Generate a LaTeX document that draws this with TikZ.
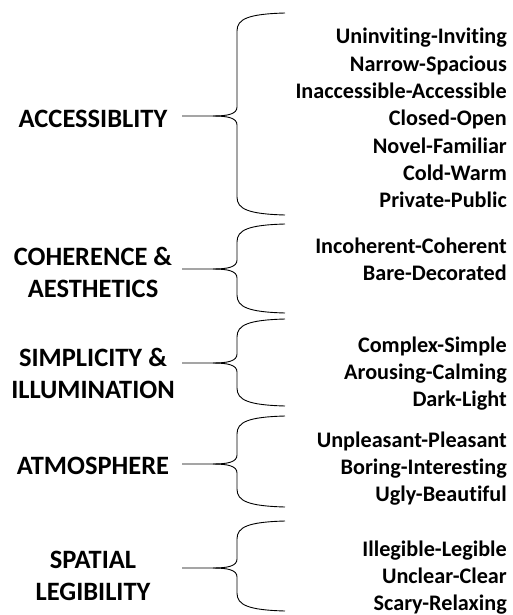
\documentclass[tikz,border=0pt]{standalone}
\usepackage{fontspec}
\setmainfont[Ligatures=NoCommon]{Carlito}
\usetikzlibrary{positioning}

\tikzset{
  grplabel/.style={font=\bfseries\fontsize{26.5}{32}\selectfont, align=center, inner sep=0pt},
  itemlabel/.style={font=\bfseries\fontsize{22.2}{27}\selectfont, anchor=base east, inner sep=0pt},
  bracepath/.style={line width=0.9pt},
}

% brace from tail coordinate #1: top #2, tip #3, bottom #4
\newcommand{\groupbrace}[4]{%
  \draw[bracepath] (#1) -- (213,#3)
    .. controls (228,#3) and (237,#3-2) .. (237,#3-9) -- (237,#2+18)
    .. controls (237,#2+6) and (248,#2+1) .. (285,#2);
  \draw[bracepath] (213,#3)
    .. controls (228,#3) and (237,#3+2) .. (237,#3+9) -- (237,#4-18)
    .. controls (237,#4-6) and (248,#4-1) .. (285,#4);
}

\begin{document}
\begin{tikzpicture}[x=1pt,y=-1pt]
  \useasboundingbox (0,0) rectangle (512,615);
  % ===== group labels =====
  \node[grplabel] (acc) at (93,119) {ACCESSIBLITY};
  \node[grplabel] (coh) at (93,272) {COHERENCE \&\\AESTHETICS};
  \node[grplabel] (sim) at (93,373) {SIMPLICITY \&\\ILLUMINATION};
  \node[grplabel] (atm) at (93,466) {ATMOSPHERE};
  \node[grplabel] (spa) at (93,576) {SPATIAL\\LEGIBILITY};
  % ===== brace tails =====
  \coordinate (acc-t) at (182,116);
  \coordinate (coh-t) at (182,269);
  \coordinate (sim-t) at (182,363);
  \coordinate (atm-t) at (182,464);
  \coordinate (spa-t) at (182,568);
  % ===== braces =====
  \groupbrace{acc-t}{13}{116}{215}
  \groupbrace{coh-t}{224}{269}{313}
  \groupbrace{sim-t}{319}{363}{406}
  \groupbrace{atm-t}{416}{464}{507}
  \groupbrace{spa-t}{521}{568}{611}
  % ===== item labels =====
  \foreach \txt [count=\i] in {Uninviting-Inviting,Narrow-Spacious,Inaccessible-Accessible,Closed-Open,Novel-Familiar,Cold-Warm,Private-Public}
    \node[itemlabel] (acc-\i) at (507,44+27.3*\i-27.3) {\txt};
  \foreach \txt [count=\i] in {Incoherent-Coherent,Bare-Decorated}
    \node[itemlabel] (coh-\i) at (507,253+27*\i-27) {\txt};
  \foreach \txt [count=\i] in {Complex-Simple,Arousing-Calming,Dark-Light}
    \node[itemlabel] (sim-\i) at (507,352+27*\i-27) {\txt};
  \foreach \txt [count=\i] in {Unpleasant-Pleasant,Boring-Interesting,Ugly-Beautiful}
    \node[itemlabel] (atm-\i) at (507,447+27*\i-27) {\txt};
  \foreach \txt [count=\i] in {Illegible-Legible,Unclear-Clear,Scary-Relaxing}
    \node[itemlabel] (spa-\i) at (507,556+27*\i-27) {\txt};
\end{tikzpicture}
\end{document}
